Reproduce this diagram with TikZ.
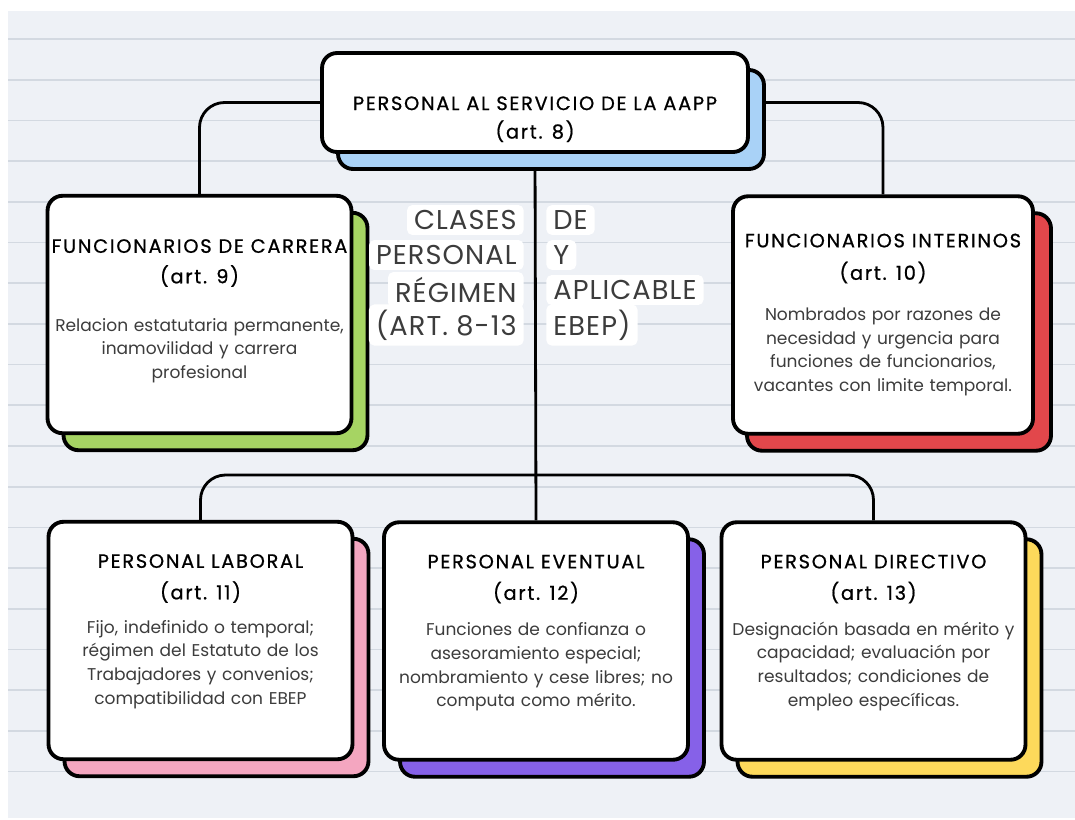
\documentclass[tikz,border=0pt]{standalone}
\usepackage{fontspec}
\setmainfont{Poppins}
\newfontfamily\headfont{Poppins}[LetterSpace=9, FakeBold=0.8]
\newfontfamily\capfont{Poppins}[LetterSpace=4]
\usetikzlibrary{positioning,calc}
\pgfdeclarelayer{background}
\pgfsetlayers{background,main}
\definecolor{paper}{HTML}{EEF1F6}
\definecolor{ruleline}{HTML}{D3D9E1}
\definecolor{bodygray}{HTML}{3C3C3C}
\definecolor{blueS}{HTML}{A9D2F7}
\definecolor{greenS}{HTML}{A6D463}
\definecolor{redS}{HTML}{E2474B}
\definecolor{pinkS}{HTML}{F4A6C0}
\definecolor{purpleS}{HTML}{8661E8}
\definecolor{yellowS}{HTML}{FDD95B}

\begin{document}
\begin{tikzpicture}[x=0.02cm, y=-0.02cm,
		every node/.style={on grid},
		card/.style={draw, line width=2.2pt, rounded corners=0.3cm, fill=white, minimum width=6.08cm, minimum height=4.75cm, inner sep=0pt},
		cardback/.style={card, xshift=0.32cm, yshift=-0.34cm},
		head/.style={font=\headfont\fontsize{11}{13}\selectfont, text=black, inner sep=0pt},
		body/.style={font=\fontsize{9.7}{13.4}\selectfont, text=bodygray, text width=6cm, align=center, inner sep=0pt},
		midword/.style={font=\capfont\fontsize{15.5}{17}\selectfont, text=bodygray, fill=white, rounded corners=3pt, inner xsep=4pt, inner ysep=3pt},
		conn/.style={line width=1.6pt, rounded corners=0.5cm}]
	\useasboundingbox (0,0) rectangle (1075,819);
	
	% top card
	\node[cardback, fill=blueS, minimum width=8.52cm, minimum height=1.98cm] (topS) at (535,102.5) {};
	\node[card, minimum width=8.52cm, minimum height=1.98cm] (top) at (535,102.5) {};
	\node[head, below=0.9cm of top.north] (toptitle) {PERSONAL AL SERVICIO DE LA AAPP};
	\node[head, below=0.56cm of toptitle] (topart) {(art. 8)};
	
	% middle row
	\node[cardback, fill=greenS] (fdcS) at (199.5,314.5) {};
	\node[card] (fdc) at (199.5,314.5) {};
	\node[head, below=0.9cm of fdc.north] (fdctitle) {FUNCIONARIOS DE CARRERA};
	\node[head, below=0.6cm of fdctitle] (fdcart) {(art. 9)};
	\node[body, below=0.84cm of fdcart, anchor=north] (fdcbody) {Relacion estatutaria permanente,\\ inamovilidad y carrera\\ profesional};
	
	\node[cardback, fill=redS] (fiS) at (883,315) {};
	\node[card, minimum width=6cm] (fi) at (883,315) {};
	\node[head, below=0.78cm of fi.north] (fititle) {FUNCIONARIOS INTERINOS};
	\node[head, below=0.64cm of fititle] (fiart) {(art. 10)};
	\node[body, below=0.7cm of fiart, anchor=north] (fibody) {Nombrados por razones de\\ necesidad y urgencia para\\ funciones de funcionarios,\\ vacantes con limite temporal.};
	
	% bottom row
	\node[cardback, fill=pinkS] (plS) at (200.5,640.5) {};
	\node[card] (pl) at (200.5,640.5) {};
	\node[head, below=0.68cm of pl.north] (pltitle) {PERSONAL LABORAL};
	\node[head, below=0.62cm of pltitle] (plart) {(art. 11)};
	\node[body, below=0.56cm of plart, anchor=north] (plbody) {Fijo, indefinido o temporal;\\ régimen del Estatuto de los\\ Trabajadores y convenios;\\ compatibilidad con EBEP};
	
	\node[cardback, fill=purpleS] (peS) at (536,641) {};
	\node[card] (pe) at (536,641) {};
	\node[head, below=0.68cm of pe.north] (petitle) {PERSONAL EVENTUAL};
	\node[head, below=0.62cm of petitle] (peart) {(art. 12)};
	\node[body, below=0.6cm of peart, anchor=north] (pebody) {Funciones de confianza o\\ asesoramiento especial;\\ nombramiento y cese libres; no\\ computa como mérito.};
	
	\node[cardback, fill=yellowS] (pdS) at (873.5,641) {};
	\node[card] (pd) at (873.5,641) {};
	\node[head, below=0.68cm of pd.north] (pdtitle) {PERSONAL DIRECTIVO};
	\node[head, below=0.62cm of pdtitle] (pdart) {(art. 13)};
	\node[body, below=0.58cm of pdart, anchor=north] (pdbody) {Designación basada en mérito y\\ capacidad; evaluación por\\ resultados; condiciones de\\ empleo específicas.};
	
	% caption split by the centre line
	\node[midword, anchor=east] (cl1) at (524,220) {CLASES};
	\node[midword, anchor=east] (cl2) at (524,255) {PERSONAL};
	\node[midword, anchor=east] (cl3) at (524,290) {RÉGIMEN};
	\node[midword, anchor=east] (cl4) at (524,325) {(ART. 8-13};
	\node[midword, anchor=west] (cr1) at (546,220) {DE};
	\node[midword, anchor=west] (cr2) at (546,255) {Y};
	\node[midword, anchor=west] (cr3) at (546,290) {APLICABLE};
	\node[midword, anchor=west] (cr4) at (546,325) {EBEP)};
	
	\begin{pgfonlayer}{background}
		\fill[white] (0,0) rectangle (1075,819);
		\fill[paper] (8,11) rectangle (1075,818);
		\foreach \k in {0,...,18}
			\draw[ruleline, line width=1pt] (8,39+40.7*\k) -- (1075,39+40.7*\k);
		\coordinate (hub) at (536,475);
		\draw[conn] (top.west) -| (fdc.north);
		\draw[conn] (top.east) -| (fi.north);
		\draw[conn] (top.south) -- (pe.north);
		\draw[conn] (pl.north) |- (hub) -| (pd.north);
	\end{pgfonlayer}
\end{tikzpicture}
\end{document}
